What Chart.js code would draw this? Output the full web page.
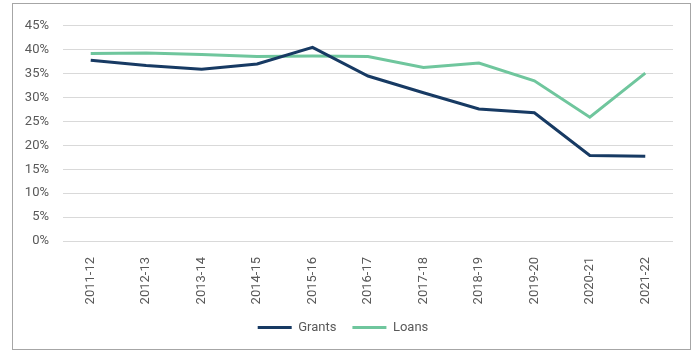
<!DOCTYPE html>
<html>
<head>
<meta charset="utf-8">
<script src="https://cdn.jsdelivr.net/npm/chart.js@4"></script>
<style>
  body { margin: 0; background: #fff; }
  #box {
    position: absolute; left: 12px; top: 3px;
    width: 677px; height: 345px;
    border: 1px solid #a6a6a6;
  }
</style>
</head>
<body>
<div id="box"><canvas id="chart"></canvas></div>
<script>
const years = ["2011-12", "2012-13", "2013-14", "2014-15", "2015-16", "2016-17",
               "2017-18", "2018-19", "2019-20", "2020-21", "2021-22"];
const grants = [37.8, 36.7, 35.9, 37.0, 40.5, 34.5, 31.0, 27.6, 26.8, 17.9, 17.7];
const loans = [39.2, 39.3, 39.0, 38.6, 38.7, 38.6, 36.3, 37.2, 33.5, 25.9, 35.1];

const ctx = document.getElementById("chart").getContext("2d");

new Chart(ctx, {
    type: "line",
    data: {
        labels: years,
        datasets: [
            { label: "Grants", data: grants, borderColor: "#173a63", backgroundColor: "#173a63",
              borderWidth: 3, pointRadius: 0, tension: 0 },
            { label: "Loans", data: loans, borderColor: "#6fc69d", backgroundColor: "#6fc69d",
              borderWidth: 3, pointRadius: 0, tension: 0 }
        ]
    },
    options: {
        responsive: true,
        maintainAspectRatio: false,
        animation: false,
        layout: { padding: { top: 12, right: 17, bottom: 5, left: 0 } },
        plugins: {
            tooltip: { enabled: false },
            legend: {
                position: "bottom",
                labels: {
                    boxWidth: 34, boxHeight: 3, padding: 16,
                    color: "#595959",
                    font: { family: "Roboto", size: 13 },
                    generateLabels: chart => Chart.defaults.plugins.legend.labels.generateLabels(chart)
                        .map(item => Object.assign(item, { lineWidth: 0 }))
                }
            }
        },
        scales: {
            x: {
                offset: true,
                grid: { display: false },
                border: { display: false },
                ticks: {
                    minRotation: 90, maxRotation: 90, padding: 8,
                    color: "#595959", font: { family: "Roboto", size: 13 }
                },
                afterFit: s => { s.height = 64; }
            },
            y: {
                min: 0, max: 45,
                grid: { color: "#d9d9d9", lineWidth: 1, drawTicks: false },
                border: { display: false },
                ticks: {
                    stepSize: 5, padding: 14,
                    color: "#595959", font: { family: "Roboto", size: 13 },
                    callback: v => v + "%"
                },
                afterFit: s => { s.width = 50; }
            }
        }
    }
});
</script>
</body>
</html>
